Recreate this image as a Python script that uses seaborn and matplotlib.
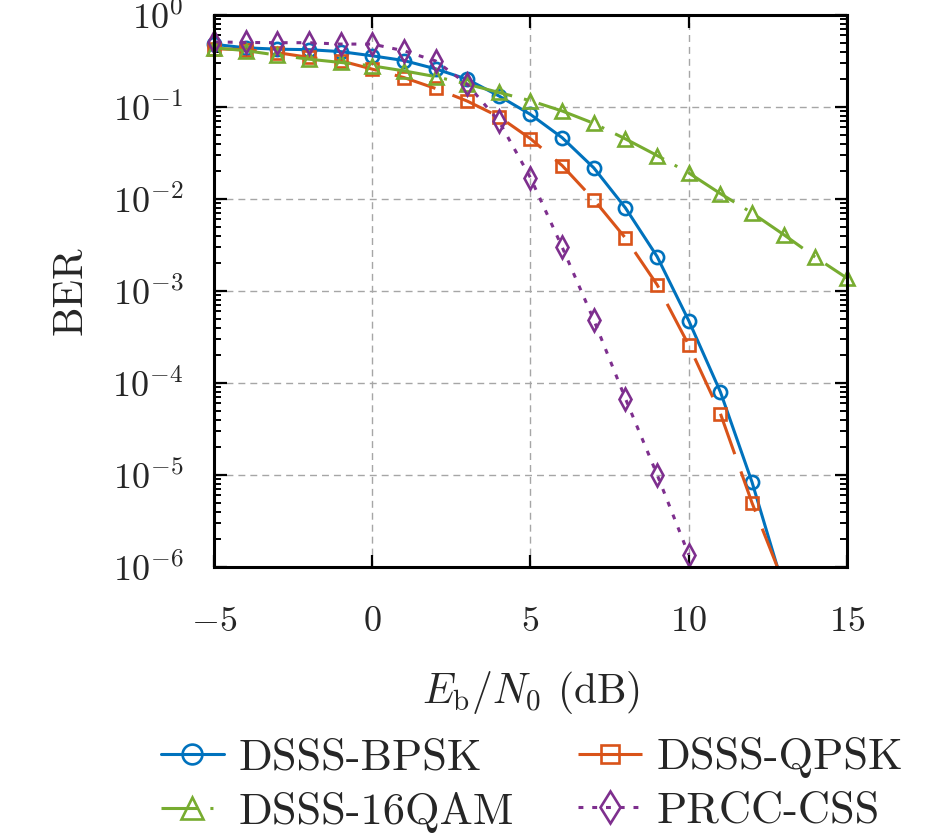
import numpy as np
import pandas as pd
import matplotlib
matplotlib.use("Agg")
import matplotlib.pyplot as plt
import matplotlib.ticker as mticker
import seaborn as sns

# valores (Eb/N0 em dB, BER)
snr_bpsk = [-5, -4, -3, -2, -1, 0, 1, 2, 3, 4, 5, 6, 7, 8, 9, 10, 11, 12, 13]
ber_bpsk = [0.48, 0.44, 0.425, 0.42, 0.40, 0.36, 0.32, 0.26, 0.20, 0.132, 0.083,
            0.0464, 0.0218, 0.0080, 0.00237, 4.76e-4, 8.0e-5, 8.35e-6, 5.9e-7]

snr_qpsk = [-5, -4, -3, -2, -1, 0, 1, 2, 3, 4, 5, 6, 7, 8, 9, 10, 11, 12, 13]
ber_qpsk = [0.43, 0.42, 0.39, 0.346, 0.318, 0.258, 0.209, 0.159, 0.116, 0.0786,
            0.0452, 0.0231, 0.00985, 0.00376, 0.00117, 2.58e-4, 4.65e-5, 4.97e-6, 6.7e-7]

snr_16qam = [-5, -4, -3, -2, -1, 0, 1, 2, 3, 4, 5, 6, 7, 8, 9, 10, 11, 12, 13, 14, 15]
ber_16qam = [0.44, 0.41, 0.366, 0.331, 0.305, 0.28, 0.247, 0.214, 0.177, 0.144,
             0.117, 0.0905, 0.0664, 0.045, 0.0297, 0.0192, 0.01145, 0.00705,
             0.0041, 0.00233, 0.00138]

snr_css = [-5, -4, -3, -2, -1, 0, 1, 2, 3, 4, 5, 6, 7, 8, 9, 10]
ber_css = [0.51, 0.503, 0.50, 0.50, 0.483, 0.483, 0.408, 0.317, 0.177, 0.0704,
           0.017, 0.0030, 4.84e-4, 6.76e-5, 1.01e-5, 1.36e-6]

nomes = ['DSSS-BPSK', 'DSSS-QPSK', 'DSSS-16QAM', 'PRCC-CSS']
cores = ['#0072BD', '#D95319', '#77AC30', '#7E2F8E']
marcadores = ['o', 's', '^', 'd']
tamanhos = [9.5, 8.5, 10.5, 11]
estilos = ['-', (0, (14, 6)), (0, (18, 4, 1, 4)), (0, (1.6, 2.9))]
# padrões só para as amostras da legenda
estilos_legenda = ['-', (0, (40, 6)), (0, (12, 4, 1, 4)), (0, (1.6, 2.9))]

sns.set_theme(style='ticks')
plt.rcParams['font.family'] = ['serif']
plt.rcParams['font.serif'] = ['cmr10']
plt.rcParams['mathtext.fontset'] = 'cm'
plt.rcParams['axes.formatter.use_mathtext'] = True
plt.rcParams['axes.unicode_minus'] = True

fig = plt.figure(figsize=(9.45, 8.39), dpi=100)
ax = fig.add_axes([214 / 945, 1 - 567 / 839, (847 - 214) / 945, (567 - 15) / 839])
ax.set_yscale('log')

series = [(snr_bpsk, ber_bpsk), (snr_qpsk, ber_qpsk),
          (snr_16qam, ber_16qam), (snr_css, ber_css)]

ymin, ymax = 1e-6, 1.0
for (x, y), nome, cor, mk, ms, ls in zip(series, nomes, cores, marcadores, tamanhos, estilos):
    df = pd.DataFrame({'snr': x, 'ber': y})
    # linha (recortada nos eixos)
    sns.lineplot(data=df, x='snr', y='ber', ax=ax, color=cor, linestyle=ls,
                 linewidth=2.2, marker=mk, markersize=ms, markeredgewidth=1.9,
                 markerfacecolor='none', markeredgecolor=cor, errorbar=None,
                 label=nome, markevery=[])
    # marcadores dentro da faixa, sem recorte na borda
    dentro = df[(df['ber'] >= ymin) & (df['ber'] <= ymax)]
    sns.lineplot(data=dentro, x='snr', y='ber', ax=ax, color=cor, linestyle='',
                 marker=mk, markersize=ms, markeredgewidth=1.9,
                 markerfacecolor='none', markeredgecolor=cor, errorbar=None,
                 clip_on=False, legend=False)

ax.set_xlim(-5, 15)
ax.set_ylim(ymin, ymax)
ax.set_xticks([-5, 0, 5, 10, 15])
ax.yaxis.set_major_locator(mticker.LogLocator(base=10, numticks=10))
ax.yaxis.set_minor_locator(mticker.LogLocator(base=10, subs=np.arange(2, 10), numticks=20))
ax.yaxis.set_minor_formatter(mticker.NullFormatter())

ax.grid(True, which='major', color='#a6a6a6', linestyle=(0, (5, 3.6)), linewidth=1.0)
ax.tick_params(which='both', direction='in', top=True, right=True, color='black')
ax.tick_params(which='major', length=9, width=1.6, labelsize=26)
ax.tick_params(which='minor', length=5, width=1.4)
ax.tick_params(axis='x', which='major', pad=28)
ax.tick_params(axis='y', which='major', pad=22)
for s in ax.spines.values():
    s.set_linewidth(2.2)
    s.set_color('black')

ax.set_xlabel(r'$E_{\mathrm{b}}/N_0$ (dB)', fontsize=30, labelpad=23)
ax.set_ylabel('BER', fontsize=30, labelpad=16)

h, l = ax.get_legend_handles_labels()
ordem = [0, 2, 1, 3]
leg = ax.legend([h[i] for i in ordem], [l[i] for i in ordem],
                loc='upper center', bbox_to_anchor=(0.502, -0.236), ncol=2, frameon=False,
                fontsize=32, handlelength=1.42, markerscale=1.5, columnspacing=1.45,
                handletextpad=0.33, labelspacing=0.3)
for linha, i in zip(leg.get_lines(), ordem):
    linha.set_markevery([1])
    linha.set_linestyle(estilos_legenda[i])

fig.savefig('out.png', dpi=100)
